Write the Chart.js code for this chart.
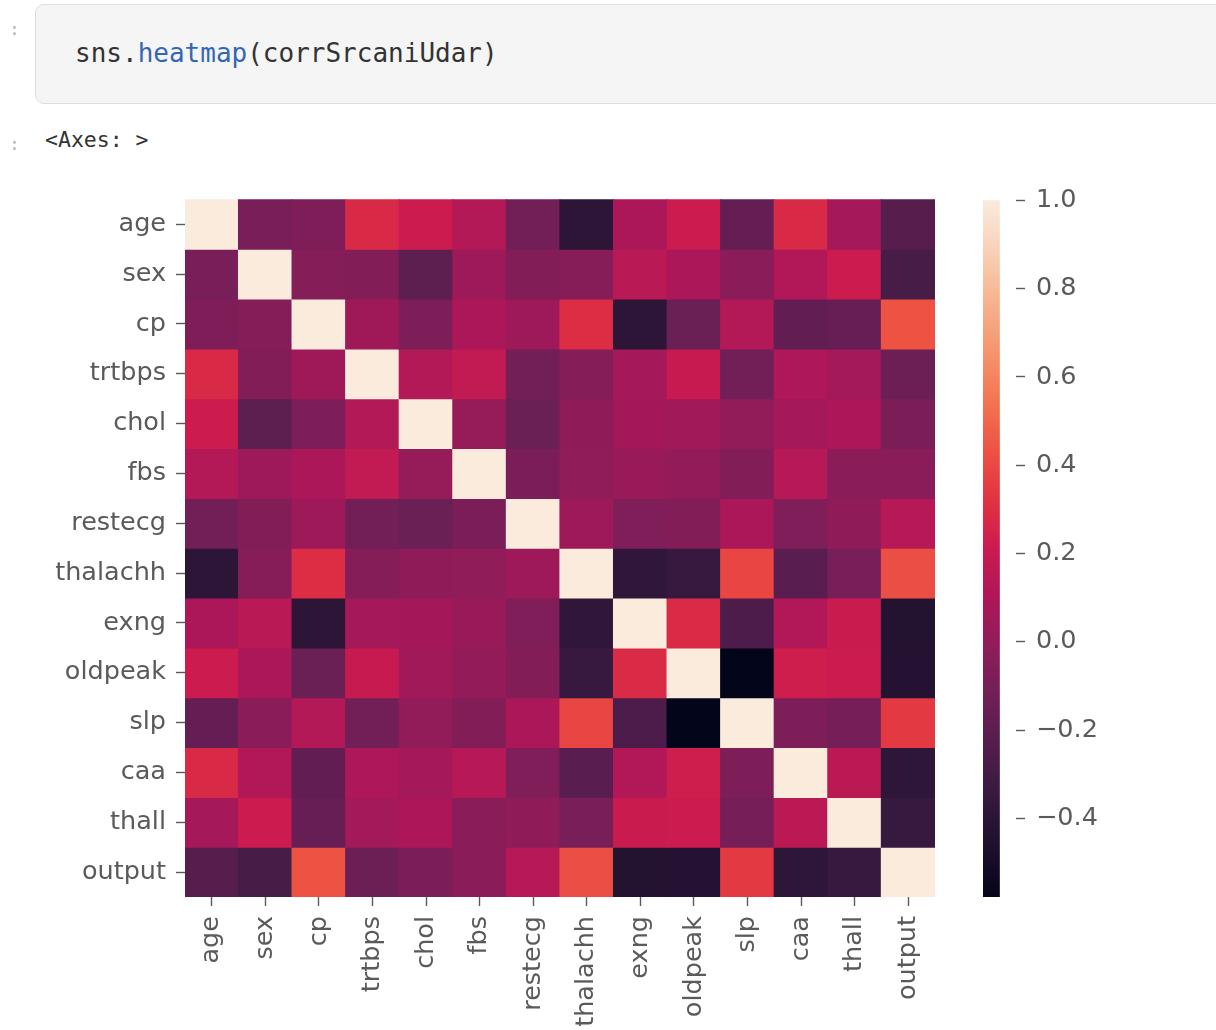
<!DOCTYPE html>
<html>
<head>
<meta charset="utf-8">
<script src="https://cdn.jsdelivr.net/npm/chart.js@4.4.1/dist/chart.umd.min.js"></script>
<style>
  html, body { margin: 0; padding: 0; background: #ffffff; width: 1216px; height: 1030px; overflow: hidden; position: relative; }
  .prompt { position: absolute; color: #b8b8b8; font-family: "DejaVu Sans Mono", monospace; font-size: 18px; }
  #codebox { position: absolute; left: 35px; top: 4px; width: 1200px; height: 100px; background: #f5f5f5;
             border: 1px solid #dedede; border-radius: 9px; box-sizing: border-box; }
  #code { position: absolute; left: 39px; top: 33px; font-family: "DejaVu Sans Mono", monospace; font-size: 26px; color: #333; white-space: pre; }
  #code .fn { color: #3367b5; }
  #out { position: absolute; left: 45px; top: 127px; font-family: "DejaVu Sans Mono", monospace; font-size: 21.5px; color: #333; white-space: pre; }
  canvas { position: absolute; }
</style>
</head>
<body>
<div class="prompt" style="left:9px; top:18px;">:</div>
<div id="codebox"><div id="code">sns.<span class="fn">heatmap</span>(corrSrcaniUdar)</div></div>
<div class="prompt" style="left:9px; top:133px;">:</div>
<div id="out">&lt;Axes: &gt;</div>
<canvas id="heat" width="960" height="856" style="left:0px; top:174px; width:960px; height:856px;"></canvas>
<canvas id="cbar" width="256" height="856" style="left:960px; top:174px; width:256px; height:856px;"></canvas>
<script>
// ---- data ----
const labels = ["age","sex","cp","trtbps","chol","fbs","restecg","thalachh","exng","oldpeak","slp","caa","thall","output"];
const corrAge      = [1.000,-0.098,-0.069, 0.279, 0.214, 0.121,-0.116,-0.399, 0.097, 0.210,-0.169, 0.276, 0.068,-0.225];
const corrSex      = [-0.098, 1.000,-0.049,-0.057,-0.198, 0.045,-0.058,-0.044, 0.142, 0.096,-0.031, 0.118, 0.210,-0.281];
const corrCp       = [-0.069,-0.049, 1.000, 0.048,-0.077, 0.094, 0.044, 0.296,-0.394,-0.149, 0.120,-0.181,-0.162, 0.434];
const corrTrtbps   = [0.279,-0.057, 0.048, 1.000, 0.123, 0.178,-0.114,-0.047, 0.068, 0.193,-0.121, 0.101, 0.062,-0.145];
const corrChol     = [0.214,-0.198,-0.077, 0.123, 1.000, 0.013,-0.151,-0.010, 0.067, 0.054,-0.004, 0.071, 0.099,-0.085];
const corrFbs      = [0.121, 0.045, 0.094, 0.178, 0.013, 1.000,-0.084,-0.009, 0.026, 0.006,-0.060, 0.138,-0.032,-0.028];
const corrRestecg  = [-0.116,-0.058, 0.044,-0.114,-0.151,-0.084, 1.000, 0.044,-0.071,-0.059, 0.093,-0.072,-0.012, 0.137];
const corrThalachh = [-0.399,-0.044, 0.296,-0.047,-0.010,-0.009, 0.044, 1.000,-0.379,-0.344, 0.387,-0.213,-0.096, 0.422];
const corrExng     = [0.097, 0.142,-0.394, 0.068, 0.067, 0.026,-0.071,-0.379, 1.000, 0.288,-0.258, 0.116, 0.207,-0.437];
const corrOldpeak  = [0.210, 0.096,-0.149, 0.193, 0.054, 0.006,-0.059,-0.344, 0.288, 1.000,-0.578, 0.223, 0.210,-0.431];
const corrSlp      = [-0.169,-0.031, 0.120,-0.121,-0.004,-0.060, 0.093, 0.387,-0.258,-0.578, 1.000,-0.080,-0.105, 0.346];
const corrCaa      = [0.276, 0.118,-0.181, 0.101, 0.071, 0.138,-0.072,-0.213, 0.116, 0.223,-0.080, 1.000, 0.152,-0.392];
const corrThall    = [0.068, 0.210,-0.162, 0.062, 0.099,-0.032,-0.012,-0.096, 0.207, 0.210,-0.105, 0.152, 1.000,-0.344];
const corrOutput   = [-0.225,-0.281, 0.434,-0.145,-0.085,-0.028, 0.137, 0.422,-0.437,-0.431, 0.346,-0.392,-0.344, 1.000];
const colorbarTicks = [-0.4,-0.2,0.0,0.2,0.4,0.6,0.8,1.0];

const rowsData = [corrAge,corrSex,corrCp,corrTrtbps,corrChol,corrFbs,corrRestecg,corrThalachh,corrExng,corrOldpeak,corrSlp,corrCaa,corrThall,corrOutput];
const vmin = Math.min(...rowsData.flat());
const vmax = Math.max(...rowsData.flat());

// ---- rocket colormap (seaborn) anchors ----
const rocket = [
  [0.000, [3,5,26]],
  [0.071, [30,15,45]],
  [0.143, [53,25,62]],
  [0.214, [82,29,76]],
  [0.286, [112,31,87]],
  [0.357, [142,28,89]],
  [0.429, [173,23,89]],
  [0.500, [203,27,79]],
  [0.571, [225,51,66]],
  [0.643, [237,83,67]],
  [0.714, [243,118,81]],
  [0.786, [245,150,110]],
  [0.857, [246,180,143]],
  [0.929, [248,209,184]],
  [1.000, [250,235,221]]
];
function rocketColor(t) {
  t = Math.max(0, Math.min(1, t));
  for (let i = 1; i < rocket.length; i++) {
    if (t <= rocket[i][0]) {
      const [t0, c0] = rocket[i-1], [t1, c1] = rocket[i];
      const f = (t - t0) / (t1 - t0);
      const c = c0.map((v, k) => Math.round(v + (c1[k] - v) * f));
      return `rgb(${c[0]},${c[1]},${c[2]})`;
    }
  }
  const c = rocket[rocket.length-1][1];
  return `rgb(${c[0]},${c[1]},${c[2]})`;
}
const norm = v => (v - vmin) / (vmax - vmin);

Chart.defaults.font.family = "'DejaVu Sans', sans-serif";
Chart.defaults.font.size = 25.5;
Chart.defaults.color = "#5a5a5a";

const tickGrid = { display: true, drawOnChartArea: false, drawTicks: true, tickLength: 9, tickWidth: 1.4, tickColor: "#5a5a5a", offset: false };

// ---- heatmap ----
const datasets = rowsData.map((row, r) => ({
  label: labels[r],
  data: row.map(() => [r, r + 1]),
  backgroundColor: row.map(v => rocketColor(norm(v))),
  borderWidth: 0,
  grouped: false,
  barPercentage: 1.0,
  categoryPercentage: 1.0,
  inflateAmount: 0.6
}));

new Chart(document.getElementById("heat"), {
  type: "bar",
  data: { labels: labels, datasets: datasets },
  options: {
    responsive: false,
    animation: false,
    layout: { padding: { left: 0, top: 12, right: 25, bottom: 0 } },
    plugins: { legend: { display: false }, tooltip: { enabled: false } },
    scales: {
      x: {
        type: "category",
        offset: true,
        grid: tickGrid,
        border: { display: false },
        ticks: { minRotation: 90, maxRotation: 90, padding: 10, autoSkip: false, color: "#5a5a5a" },
        afterFit: s => { s.height = 133; }
      },
      y: {
        type: "linear",
        min: 0, max: labels.length,
        reverse: true,
        grid: tickGrid,
        border: { display: false },
        afterBuildTicks: s => { s.ticks = labels.map((_, i) => ({ value: i + 0.5 })); },
        ticks: { padding: 10, autoSkip: false, color: "#5a5a5a", callback: (v, i) => labels[i] },
        afterFit: s => { s.width = 185; }
      }
    }
  }
});

// ---- colorbar ----
new Chart(document.getElementById("cbar"), {
  type: "bar",
  data: {
    labels: [""],
    datasets: [{
      data: [[vmin, vmax]],
      barPercentage: 1.0,
      categoryPercentage: 1.0,
      borderWidth: 0,
      backgroundColor: ctx => {
        const ch = ctx.chart, area = ch.chartArea;
        if (!area) return rocketColor(0.5);
        const g = ch.ctx.createLinearGradient(0, area.bottom, 0, area.top);
        for (let i = 0; i <= 64; i++) g.addColorStop(i / 64, rocketColor(i / 64));
        return g;
      }
    }]
  },
  options: {
    responsive: false,
    animation: false,
    layout: { padding: { left: 23, top: 12, right: 0, bottom: 133 } },
    plugins: { legend: { display: false }, tooltip: { enabled: false } },
    scales: {
      x: { display: false, offset: false },
      y: {
        type: "linear",
        position: "right",
        min: vmin, max: vmax,
        grid: tickGrid,
        border: { display: false },
        afterBuildTicks: s => { s.ticks = colorbarTicks.map(v => ({ value: v })); },
        ticks: { padding: 11, color: "#5a5a5a", callback: v => (v < 0 ? "\u2212" : "") + Math.abs(v).toFixed(1) },
        afterFit: s => { s.width = 200; }
      }
    }
  }
});
</script>
</body>
</html>
